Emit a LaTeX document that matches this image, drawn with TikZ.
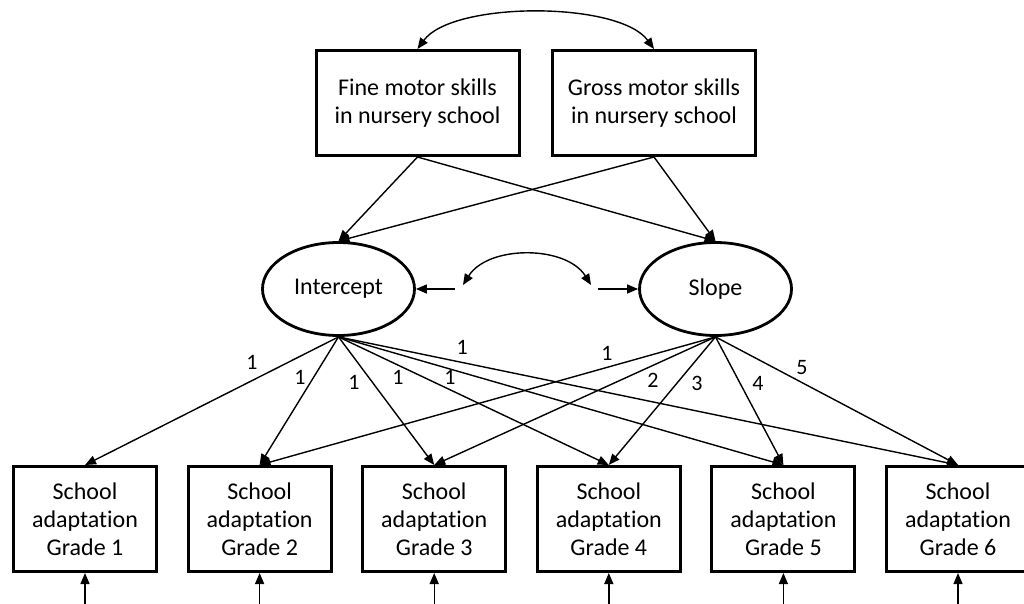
\documentclass[tikz,border=0pt]{standalone}
\usepackage{fontspec}
\setmainfont{Carlito}[Ligatures=NoCommon]
\usepackage{tikz}
\usetikzlibrary{arrows.meta, shapes.geometric}

\begin{document}
\begin{tikzpicture}[x=1pt, y=-1pt,
    box/.style={draw, line width=3pt, minimum width=143pt, minimum height=105pt, inner sep=0pt, align=center, font=\fontsize{24}{28}\selectfont},
    topbox/.style={box, minimum width=203pt},
    latent/.style={ellipse, draw, line width=2.8pt, minimum width=152pt, minimum height=93pt, inner sep=0pt, font=\fontsize{24}{28}\selectfont},
    arr/.style={line width=1.4pt, -{Triangle[length=11pt,width=9pt]}},
    dblarr/.style={line width=1.4pt, {Triangle[length=11pt,width=9pt]}-{Triangle[length=11pt,width=9pt]}},
    lbl/.style={inner sep=0pt, font=\fontsize{22}{24}\selectfont}]
  \useasboundingbox (0,0) rectangle (1024,604);

  \node[topbox] (fine) at (417.5,103) {Fine motor skills\\in nursery school};
  \node[topbox] (gross) at (654,103) {Gross motor skills\\in nursery school};
  \node[latent] (icpt) at (338.5,289) {Intercept};
  \node[latent] (slope) at (715.5,289) {Slope};

  \foreach \k in {1,...,6}{
    \node[box] (g\k) at ({85+174.6*(\k-1)},519) {School\\adaptation\\Grade \k};
    \coordinate (e\k) at ({85+174.6*(\k-1)},612);
    \draw[arr] (e\k) -- (g\k.south);
  }

  % predictors to growth factors
  \foreach \s in {fine,gross}
    \foreach \t in {icpt,slope}
      \draw[arr] (\s.south) -- (\t.north);
  \draw[dblarr] (fine.north) .. controls +(35,-48) and +(-35,-48) .. (gross.north);

  \coordinate (cl) at (463,285);
  \coordinate (cr) at (591,285);
  \coordinate (vi) at (455,289);
  \coordinate (vs) at (598,289);
  \draw[dblarr] (cl) .. controls +(25,-40) and +(-25,-40) .. (cr);
  \draw[arr] (vi) -- (icpt.east);
  \draw[arr] (vs) -- (slope.west);

  % loadings
  \foreach \k/\p/\dx/\dy in {1/0.313/-7.1/14.1, 2/0.366/-9.6/5.9, 3/0.284/-11.7/-8.7,
                             4/0.238/-4.9/-10.5, 5/0.256/-2.4/-8.2, 6/0.195/2.9/14}
    \draw[arr] (icpt.south) -- node[lbl, pos=\p, xshift=\dx pt, yshift=\dy pt] {1} (g\k.north);
  \foreach \k/\p/\dx/\dy in {2/0.230/-3.8/13.4, 3/0.242/5.5/-12, 4/0.283/11.7/-9.8,
                             5/0.418/14.1/7.5, 6/0.332/6/11.5}
    \draw[arr] (slope.south) -- node[lbl, pos=\p, xshift=\dx pt, yshift=\dy pt] {\the\numexpr\k-1\relax} (g\k.north);
\end{tikzpicture}
\end{document}
